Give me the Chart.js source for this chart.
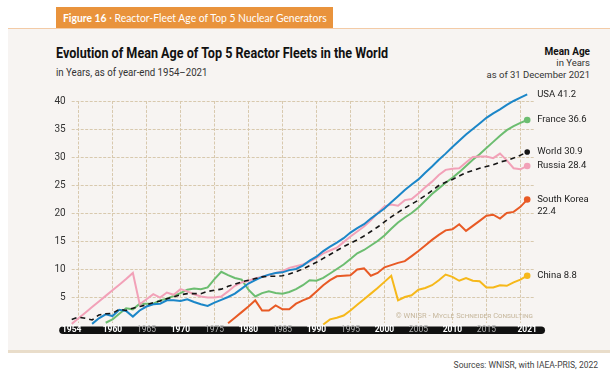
<!DOCTYPE html>
<html>
<head>
<meta charset="utf-8">
<script src="https://cdn.jsdelivr.net/npm/chart.js@4.4.1/dist/chart.umd.min.js"></script>
<style>
html, body { margin: 0; padding: 0; width: 610px; height: 383px; overflow: hidden; background: #fff; font-family: Roboto, "Liberation Sans", sans-serif; }
#panel { position: absolute; left: 8px; top: 28px; width: 602px; height: 321px; background: #f7f4f2; border-top: 1.5px solid #f3cba6; border-bottom: 3px solid #e9ddca; }
#tag { position: absolute; left: 56px; top: 7px; width: 277px; height: 21px; background: #e9933c; }
#tagtext { position: absolute; left: 63px; top: 7px; color: #fff; font-family: Lato, sans-serif; font-size: 12px; line-height: 21px; white-space: nowrap; transform-origin: 0 0; }
#title { position: absolute; left: 56px; top: 46px; font-family: Roboto, sans-serif; font-weight: 700; font-size: 14px; line-height: 15px; color: #111; white-space: nowrap; transform-origin: 0 0; }
#sub { position: absolute; left: 56px; top: 67px; font-size: 10.5px; line-height: 12px; color: #333; white-space: nowrap; transform-origin: 0 0; }
#head { position: absolute; right: 20px; top: 46px; text-align: right; font-size: 9.5px; line-height: 11.3px; color: #333; }
#head b { color: #111; font-size: 10px; }
#src { position: absolute; right: 12px; top: 360px; font-size: 8.5px; color: #444; }
#c { position: absolute; left: 0; top: 0; }
</style>
</head>
<body>
<div id="panel"></div>
<div id="tag"></div>
<div id="tagtext"><b>Figure 16</b> · Reactor-Fleet Age of Top 5 Nuclear Generators</div>
<div id="title">Evolution of Mean Age of Top 5 Reactor Fleets in the World</div>
<div id="sub">in Years, as of year-end 1954–2021</div>
<div id="head"><b>Mean Age</b><br>in Years<br>as of 31 December 2021</div>
<div id="src">Sources: WNISR, with IAEA-PRIS, 2022</div>
<canvas id="c" width="610" height="383"></canvas>
<script>
// mean age in years, year-end values
const worldStart = 1954;
const world = [1.0, 1.4, 1.2, 0.9, 1.8, 2.0, 2.1, 2.8, 2.6, 3.0,
               3.3, 3.6, 4.0, 4.3, 4.7, 5.0, 5.4, 5.6, 5.6, 5.6,
               6.0, 6.2, 6.4, 6.9, 7.3, 7.7, 8.0, 8.3, 8.6, 8.7,
               8.7, 8.8, 9.1, 9.5, 10.0, 10.6, 11.2, 11.9, 12.6, 13.3,
               14.0, 14.6, 15.2, 15.9, 16.7, 17.5, 18.4, 19.3, 20.1, 20.9,
               21.6, 22.3, 23.1, 24.0, 24.9, 25.5, 26.0, 26.6, 27.2, 27.6,
               28.0, 28.3, 28.6, 29.1, 29.4, 29.8, 30.3, 30.9];

const usaStart = 1957;
const usa = [0.2, 1.2, 1.9, 1.6, 2.7, 2.5, 1.5, 2.6, 3.3, 3.7,
             3.8, 4.4, 4.4, 4.3, 4.6, 4.1, 3.7, 3.4, 4.0, 4.5,
             5.0, 5.6, 6.5, 7.4, 8.0, 8.6, 9.0, 9.3, 9.4, 9.8,
             10.0, 10.6, 11.5, 12.2, 13.2, 14.0, 14.7, 15.5, 16.5, 17.3,
             18.0, 19.0, 19.9, 20.8, 21.9, 23.0, 24.1, 25.1, 26.0, 27.2,
             28.3, 29.5, 30.6, 31.8, 32.9, 34.0, 35.0, 36.0, 37.0, 37.8,
             38.5, 39.3, 40.0, 40.6, 41.2];

const russiaStart = 1954;
const russia = [0.2, 1.2, 2.2, 3.2, 4.2, 5.2, 6.2, 7.2, 8.2, 9.3,
                3.7, 4.6, 5.5, 4.9, 5.8, 5.4, 6.4, 6.0, 5.5, 5.1,
                4.9, 4.9, 5.1, 6.0, 7.0, 7.6, 7.9, 8.3, 8.6, 8.9,
                9.3, 9.6, 10.2, 10.5, 10.8, 11.3, 12.0, 12.8, 13.3, 13.8,
                14.8, 15.8, 16.7, 17.6, 18.7, 20.0, 21.2, 21.5, 21.3, 22.3,
                22.5, 23.5, 24.6, 25.6, 26.8, 27.7, 27.9, 28.0, 29.0, 30.0,
                30.1, 30.1, 29.8, 30.6, 29.4, 28.0, 27.8, 28.4];

const franceStart = 1959;
const france = [0.4, 1.0, 2.0, 3.0, 2.8, 3.8, 3.8, 3.8, 4.4, 4.7,
                5.2, 5.7, 6.3, 6.5, 6.4, 6.7, 8.2, 9.5, 8.9, 8.4,
                8.1, 6.3, 5.1, 5.7, 6.0, 5.7, 5.6, 5.9, 6.4, 7.1,
                8.0, 7.9, 8.4, 9.2, 10.0, 10.8, 11.8, 12.8, 13.4, 14.2,
                15.0, 16.0, 17.2, 18.3, 19.2, 20.0, 21.0, 22.2, 23.4, 24.4,
                25.4, 26.3, 27.3, 28.4, 29.5, 30.5, 31.6, 32.7, 33.8, 34.8,
                35.5, 36.1, 36.6];

const koreaStart = 1977;
const korea = [0.3, 1.3, 2.3, 3.3, 4.4, 2.6, 2.6, 3.5, 2.8, 2.8,
               3.8, 4.4, 4.9, 6.0, 7.1, 8.0, 8.7, 8.8, 8.9, 9.9,
               10.1, 8.8, 9.3, 10.3, 10.7, 11.1, 11.4, 12.3, 13.2, 14.2,
               15.2, 16.1, 16.9, 17.1, 18.0, 16.8, 17.7, 18.6, 19.5, 19.7,
               19.0, 20.0, 20.2, 21.1, 22.4];

const chinaStart = 1991;
const china = [0.1, 1.0, 1.3, 1.7, 2.6, 3.6, 4.6, 5.6, 6.6, 7.7,
               8.8, 4.4, 5.0, 5.3, 6.3, 6.6, 7.1, 8.0, 9.0, 8.6,
               7.9, 8.4, 7.9, 7.8, 6.7, 6.7, 7.1, 7.0, 7.6, 8.1,
               8.8];

// axis labels
const xLabelYears = [1954, 1960, 1965, 1970, 1975, 1980, 1985, 1990, 1995, 2000, 2005, 2010, 2015, 2021];
const xBoldYears = [1954, 1960, 1970, 1980, 1990, 2000, 2010, 2021];
const xGridYears = [1955, 1960, 1965, 1970, 1975, 1980, 1985, 1990, 1995, 2000, 2005, 2010, 2015, 2020];
const yTicks = [0, 5, 10, 15, 20, 25, 30, 35, 40];

// squeeze header text to the narrow widths of the original typeface
function fitWidth(id, w) {
    const el = document.getElementById(id);
    el.style.transform = 'scaleX(' + (w / el.offsetWidth) + ')';
}
fitWidth('tagtext', 264);
fitWidth('title', 332);
fitWidth('sub', 151);

function pts(start, vals) {
    return vals.map((v, i) => ({ x: start + i, y: v }));
}

function lastDot(ctx) {
    return ctx.dataIndex === ctx.dataset.data.length - 1 ? 3.3 : 0;
}

const isBold = c => !!c.tick && xBoldYears.includes(c.tick.value);

const GRID = '#d8c9ae';

// grid lines (1955..2020 verticals don't line up with the 1954/2021 labels)
const gridLines = {
    id: 'gridLines',
    beforeDatasetsDraw(chart) {
        const { ctx, chartArea: a, scales } = chart;
        ctx.save();
        ctx.strokeStyle = GRID;
        ctx.lineWidth = 1;
        ctx.setLineDash([3, 1.5]);
        ctx.beginPath();
        xGridYears.forEach(v => {
            const px = Math.round(scales.x.getPixelForValue(v)) + 0.5;
            ctx.moveTo(px, a.top);
            ctx.lineTo(px, a.bottom - 2);
        });
        yTicks.forEach(v => {
            if (v === 0) return;
            const py = Math.round(scales.y.getPixelForValue(v)) + 0.5;
            ctx.moveTo(a.left, py);
            ctx.lineTo(a.right, py);
        });
        ctx.stroke();
        ctx.restore();

        ctx.save();
        ctx.fillStyle = '#c7b89e';
        ctx.font = 'small-caps 7.5px Roboto, sans-serif';
        ctx.textAlign = 'right';
        ctx.textBaseline = 'middle';
        ctx.fillText('© WNISR - Mycle Schneider Consulting', a.right - 1, a.bottom - 9);
        ctx.restore();
    }
};

const axisBar = {
    id: 'axisBar',
    beforeDraw(chart) {
        const { ctx, chartArea: a } = chart;
        ctx.save();
        ctx.fillStyle = '#111';
        ctx.beginPath();
        ctx.roundRect(a.left - 12.5, a.bottom + 1.5, a.right - a.left + 23.5, 7.5, 3.75);
        ctx.fill();
        ctx.restore();
    }
};

const endLabels = {
    id: 'endLabels',
    afterDatasetsDraw(chart) {
        const ctx = chart.ctx;
        ctx.save();
        ctx.fillStyle = '#222';
        ctx.font = '9.5px Roboto, sans-serif';
        ctx.textBaseline = 'middle';
        chart.data.datasets.forEach((ds, i) => {
            const els = chart.getDatasetMeta(i).data;
            const p = els[els.length - 1];
            ds.endText.forEach((t, k) => ctx.fillText(t, p.x + 10, p.y + k * 12.5));
        });
        ctx.restore();
    }
};

new Chart(document.getElementById('c'), {
    type: 'line',
    data: {
        datasets: [
            { label: 'World', endText: ['World 30.9'], data: pts(worldStart, world), borderColor: '#151515', backgroundColor: '#151515', borderWidth: 1.6, borderDash: [5, 4], pointRadius: c => lastDot(c) ? 2.8 : 0 },
            { label: 'USA', endText: ['USA 41.2'], data: pts(usaStart, usa), borderColor: '#1b86c8', backgroundColor: '#1b86c8' },
            { label: 'Russia', endText: ['Russia 28.4'], data: pts(russiaStart, russia), borderColor: '#f2a1b8', backgroundColor: '#f2a1b8' },
            { label: 'France', endText: ['France 36.6'], data: pts(franceStart, france), borderColor: '#6cbd70', backgroundColor: '#6cbd70' },
            { label: 'South Korea', endText: ['South Korea', '22.4'], data: pts(koreaStart, korea), borderColor: '#e85a25', backgroundColor: '#e85a25' },
            { label: 'China', endText: ['China 8.8'], data: pts(chinaStart, china), borderColor: '#f6b81a', backgroundColor: '#f6b81a' },
        ]
    },
    options: {
        responsive: false,
        animation: false,
        clip: false,
        layout: { padding: { left: 51.7, right: 76, top: 101, bottom: 38 } },
        elements: {
            line: { borderWidth: 2, tension: 0 },
            point: { radius: lastDot, hoverRadius: lastDot, borderWidth: 0 }
        },
        datasets: { line: { pointBorderWidth: 0 } },
        scales: {
            x: {
                type: 'linear', min: 1954, max: 2022,
                afterFit: s => { s.height = 20; },
                afterBuildTicks: s => { s.ticks = xLabelYears.map(v => ({ value: v })); },
                grid: { display: false, drawTicks: false },
                border: { display: false },
                ticks: {
                    padding: 0,
                    autoSkip: false,
                    maxRotation: 0,
                    callback: v => String(v),
                    color: c => isBold(c) ? '#fff' : '#b5b5b5',
                    font: c => ({ family: 'Roboto', size: 8.5, weight: isBold(c) ? 'bold' : 'normal' })
                }
            },
            y: {
                min: 0, max: 40,
                afterFit: s => { s.width = 20; },
                afterBuildTicks: s => { s.ticks = yTicks.map(v => ({ value: v })); },
                grid: { display: false, drawTicks: false },
                border: { display: false },
                ticks: {
                    padding: 6,
                    color: '#333',
                    font: { family: 'Roboto', size: 10 },
                    callback: v => v === 0 ? '' : String(v)
                }
            }
        },
        plugins: {
            legend: { display: false },
            tooltip: { enabled: false }
        }
    },
    plugins: [axisBar, gridLines, endLabels]
});
</script>
</body>
</html>
